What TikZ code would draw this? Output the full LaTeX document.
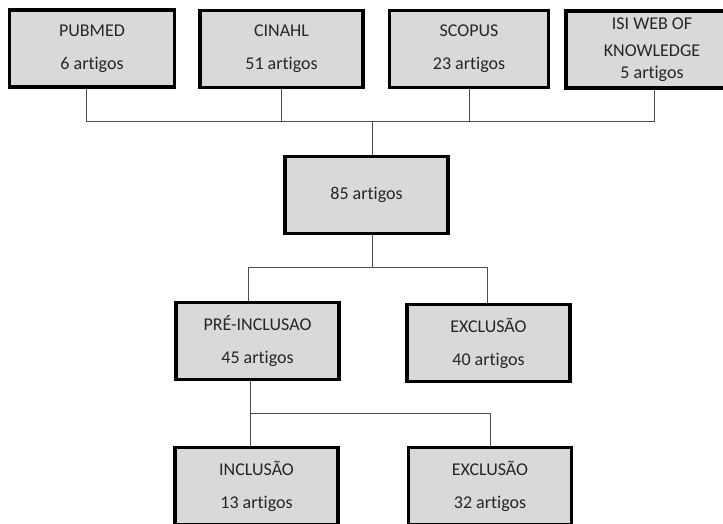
\documentclass[tikz,border=0pt]{standalone}
\usepackage{fontspec}
\setmainfont[Ligatures={NoCommon}]{Carlito}
\usepackage{tikz}

\definecolor{boxgray}{HTML}{D9D9D9}
\definecolor{textgray}{HTML}{262626}
\definecolor{linegray}{HTML}{4D4D4D}

\tikzset{
    artbox/.style={draw=black, line width=3.5pt, fill=boxgray, text=textgray,
        minimum width=163pt, minimum height=77pt, align=center,
        font=\fontsize{18}{22}\selectfont},
    link/.style={draw=linegray, line width=1pt}
}

\begin{document}
\begin{tikzpicture}[x=1pt, y={(0pt,-1pt)}]
        \useasboundingbox (0,0) rectangle (723,524);
        \clip (0,0) rectangle (723,524);

        % Nodes
        \node[artbox, minimum width=165pt] (pubmed) at (92,48.5) {PUBMED\\[11pt]6 artigos};
        \node[artbox] (cinahl) at (281.5,49) {CINAHL\\[11pt]51 artigos};
        \node[artbox, minimum width=159pt] (scopus) at (469,49) {SCOPUS\\[11pt]23 artigos};
        \node[artbox, minimum width=172pt] (isi) at (652,49.5) {ISI WEB OF\\[5pt]KNOWLEDGE\\[0pt]5 artigos};
        \node[artbox] (total) at (366.5,195) {85 artigos};
        \node[artbox] (pre) at (257.5,341) {PRÉ-INCLUSAO\\[11pt]45 artigos};
        \node[artbox] (excl1) at (488.5,343) {EXCLUSÃO\\[11pt]40 artigos};
        \node[artbox] (incl) at (256.5,486) {INCLUSÃO\\[11pt]13 artigos};
        \node[artbox] (excl2) at (490,486) {EXCLUSÃO\\[11pt]32 artigos};

        \coordinate (join1) at (372,122);
        \coordinate (join2) at (372,267);
        \coordinate (join3) at (250,413);

        % Edges
        \draw[link] ([xshift=-6pt]pubmed.south) |- (join1);
        \draw[link] (cinahl.south) |- (join1);
        \draw[link] (scopus.south) |- (join1);
        \draw[link] ([xshift=2pt]isi.south) |- (join1);
        \draw[link] (join1) -- (join1 |- total.north);
        \draw[link] (join1 |- total.south) -- (join2);
        \draw[link] (join2) -| ([xshift=-9pt]pre.north);
        \draw[link] (join2) -| ([xshift=-1.5pt]excl1.north);
        \draw[link] (join3 |- pre.south) -- (join3);
        \draw[link] (join3) -- (join3 |- incl.north);
        \draw[link] (join3) -| (excl2.north);
    \end{tikzpicture}
\end{document}
